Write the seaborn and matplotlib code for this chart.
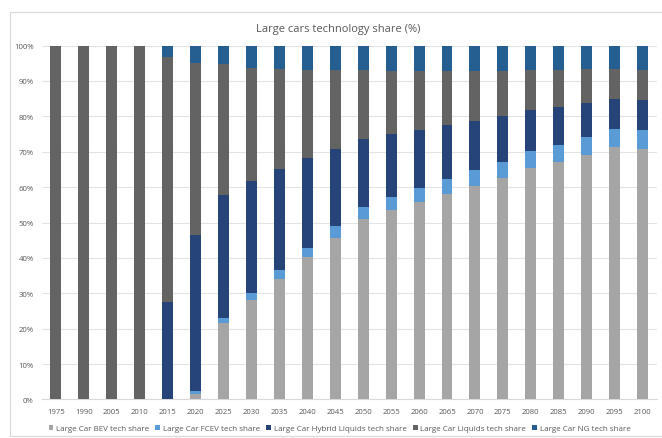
import numpy as np
import pandas as pd
import matplotlib
matplotlib.use("Agg")
import matplotlib.pyplot as plt
from matplotlib.patches import Patch, Rectangle
import seaborn as sns

years = ["1975", "1990", "2005", "2010", "2015", "2020", "2025", "2030", "2035", "2040", "2045",
         "2050", "2055", "2060", "2065", "2070", "2075", "2080", "2085", "2090", "2095", "2100"]

bev = [0, 0, 0, 0, 0, 1.6, 21.6, 28.1, 34.1, 40.2, 45.7,
       51.1, 53.4, 55.7, 58.0, 60.3, 62.5, 65.3, 67.0, 69.1, 71.3, 70.9]
fcev = [0, 0, 0, 0, 0, 0.8, 1.5, 2.1, 2.5, 2.7, 3.2,
        3.4, 3.7, 4.0, 4.2, 4.4, 4.5, 4.9, 4.9, 5.1, 5.1, 5.3]
hybrid = [0, 0, 0, 0, 27.6, 44.1, 34.6, 31.4, 28.5, 25.2, 22.0,
          19.0, 17.8, 16.4, 15.3, 14.0, 13.1, 11.6, 10.8, 9.5, 8.5, 8.4]
liquids = [100, 100, 100, 100, 69.1, 48.7, 37.0, 32.1, 28.3, 25.0, 22.1,
           19.5, 17.9, 16.7, 15.3, 14.1, 12.8, 11.2, 10.4, 9.7, 8.6, 8.6]
ng = [0, 0, 0, 0, 3.3, 4.8, 5.3, 6.3, 6.6, 6.9, 7.0,
      7.0, 7.2, 7.2, 7.2, 7.2, 7.1, 7.0, 6.9, 6.6, 6.5, 6.8]

series_names = ["Large Car BEV tech share", "Large Car FCEV tech share",
                "Large Car Hybrid Liquids tech share", "Large Car Liquids tech share",
                "Large Car NG tech share"]
series_values = [bev, fcev, hybrid, liquids, ng]
series_colors = ["#A5A5A5", "#5B9BD5", "#264478", "#636363", "#255E91"]

sns.set_theme(style="white")
plt.rcParams["font.family"] = ["Open Sans", "DejaVu Sans"]

text_color = "#595959"
grid_color = "#E3E3E3"

df = pd.DataFrame({"year": years})
for name, vals in zip(series_names, series_values):
    df[name] = np.array(vals, dtype=float)
# cumulative tops of each stacked segment
cum = df[series_names].cumsum(axis=1)

fig = plt.figure(figsize=(6.62, 4.39), dpi=100)
fig.patch.set_facecolor("white")
ax = fig.add_axes([0.0634, 0.0877, 0.9283, 0.8063])

# draw from the highest cumulative layer down so each segment shows its own share
for name, color in reversed(list(zip(series_names, series_colors))):
    sns.barplot(x=df["year"], y=cum[name] / 100.0, order=years, color=color,
                saturation=1, width=0.39, ax=ax, linewidth=0, zorder=3)

ax.set_ylim(0, 1.0)
ax.set_xlim(-0.5, len(years) - 0.5)
ax.set_yticks(np.arange(0, 1.01, 0.1))
ax.set_yticklabels([f"{int(round(v * 100))}%" for v in np.arange(0, 1.01, 0.1)])
ax.yaxis.grid(True, color=grid_color, linewidth=0.8, zorder=0)
ax.set_axisbelow(True)
ax.set_xlabel("")
ax.set_ylabel("")
for side in ["top", "right", "left"]:
    ax.spines[side].set_visible(False)
ax.spines["bottom"].set_color("#D9D9D9")
ax.spines["bottom"].set_linewidth(0.8)
ax.tick_params(axis="both", length=0, labelsize=5.6, labelcolor=text_color)
ax.tick_params(axis="x", pad=6)
ax.tick_params(axis="y", pad=6)

fig.text(0.511, 0.932, "Large cars technology share (%)", ha="center", va="center",
         fontsize=8, color=text_color)

handles = [Patch(facecolor=c, edgecolor="none", label=n) for n, c in zip(series_names, series_colors)]
fig.legend(handles=handles, loc="center", bbox_to_anchor=(0.513, 0.021), ncol=5,
           frameon=False, fontsize=5.8, labelcolor=text_color, handlelength=0.6,
           handleheight=0.6, handletextpad=0.35, columnspacing=0.75, borderaxespad=0)

# outer chart border
fig.patches.append(Rectangle((10 / 662, 2 / 439), 1.2, 424 / 439, transform=fig.transFigure,
                             fill=False, edgecolor="#D9D9D9", linewidth=0.9))

fig.savefig("out.png", dpi=100, facecolor="white")
